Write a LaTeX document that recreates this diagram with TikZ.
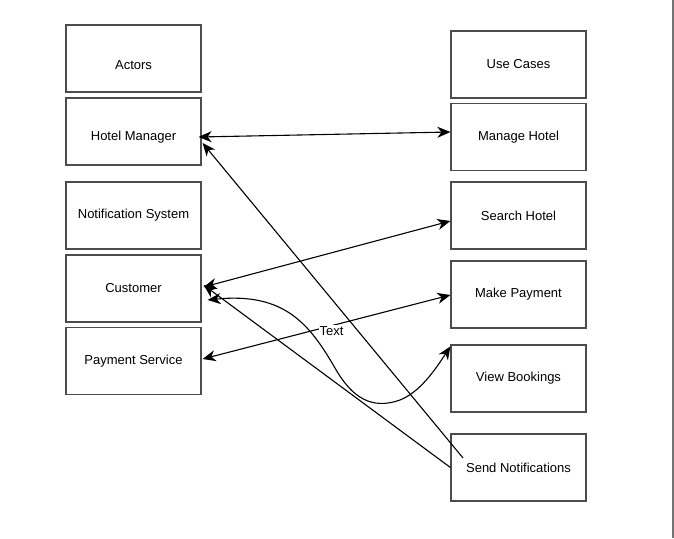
\documentclass[tikz,border=0pt]{standalone}
\usepackage{fontspec}
\setmainfont{Liberation Sans}
\usetikzlibrary{arrows.meta,calc}
\begin{document}
\begin{tikzpicture}[x=1pt,y=-1pt,
  box/.style={draw=black!70,line width=1.2pt,minimum width=135pt,minimum height=67pt,inner sep=0pt,font=\fontsize{13}{15}\selectfont,fill=white},
  txt/.style={inner sep=0pt,font=\fontsize{13}{15}\selectfont},
  conn/.style={line width=1.1pt,black},
  ah/.tip={Stealth[length=13pt,width=11pt,inset=4pt]},
  lbl/.style={fill=white,inner sep=1pt,font=\fontsize{13}{15}\selectfont}]
\useasboundingbox[fill=white] (0,0) rectangle (674,538);
\draw[black!55,line width=1.5pt] (673,0) -- (673,538);
% left column
\node[box] (act) at (133.5,58.5) {};
\node[txt] (acttxt) at (133.5,65) {Actors};
\node[box] (hm) at (133.5,131.5) {};
\node[txt] (hmtxt) at (133.5,137) {Hotel Manager};
\node[box] (ns) at (133.5,215.5) {Notification System};
\node[box] (cust) at (133.5,288.5) {Customer};
\node[box] (ps) at (133.5,361) {Payment Service};
% right column
\node[box] (uc) at (518.5,64.5) {Use Cases};
\node[box] (mh) at (518.5,137) {Manage Hotel};
\node[box] (sh) at (518.5,215.5) {Search Hotel};
\node[box] (mp) at (518.5,294.5) {Make Payment};
\node[box] (vb) at (518.5,378.5) {View Bookings};
\node[box] (sn) at (518.5,467.5) {Send Notifications};
% connectors
\draw[conn,ah-ah] ($(hm.east)+(-3,5.5)$) -- ($(mh.west)+(0,-5)$);
\draw[conn,-ah] ($(sn.center)+(-55.5,-9.5)$) -- ($(hm.east)+(1,11.5)$);
\draw[conn,-ah] (sn.west) -- ($(cust.east)+(2,-3.5)$);
\draw[conn,ah-ah] ($(cust.east)+(2,-1.5)$) -- ($(sh.west)+(0,5.5)$);
\draw[conn,ah-ah] ($(ps.east)+(1,-2)$) -- node[lbl,pos=0.52,yshift=-5pt] (t) {Text} ($(mp.west)+(0,0.5)$);
\coordinate (c0) at ($(cust.east)+(6,11.5)$);
\coordinate (c1) at ($(vb.north west)+(0,2)$);
\draw[conn,ah-ah]
  (c0) .. controls (285,292) and (310,325) .. (335,368)
  .. controls (352,398) and (372,410) .. (400,400)
  .. controls (420,392) and (435,370) .. (c1);
\end{tikzpicture}
\end{document}
